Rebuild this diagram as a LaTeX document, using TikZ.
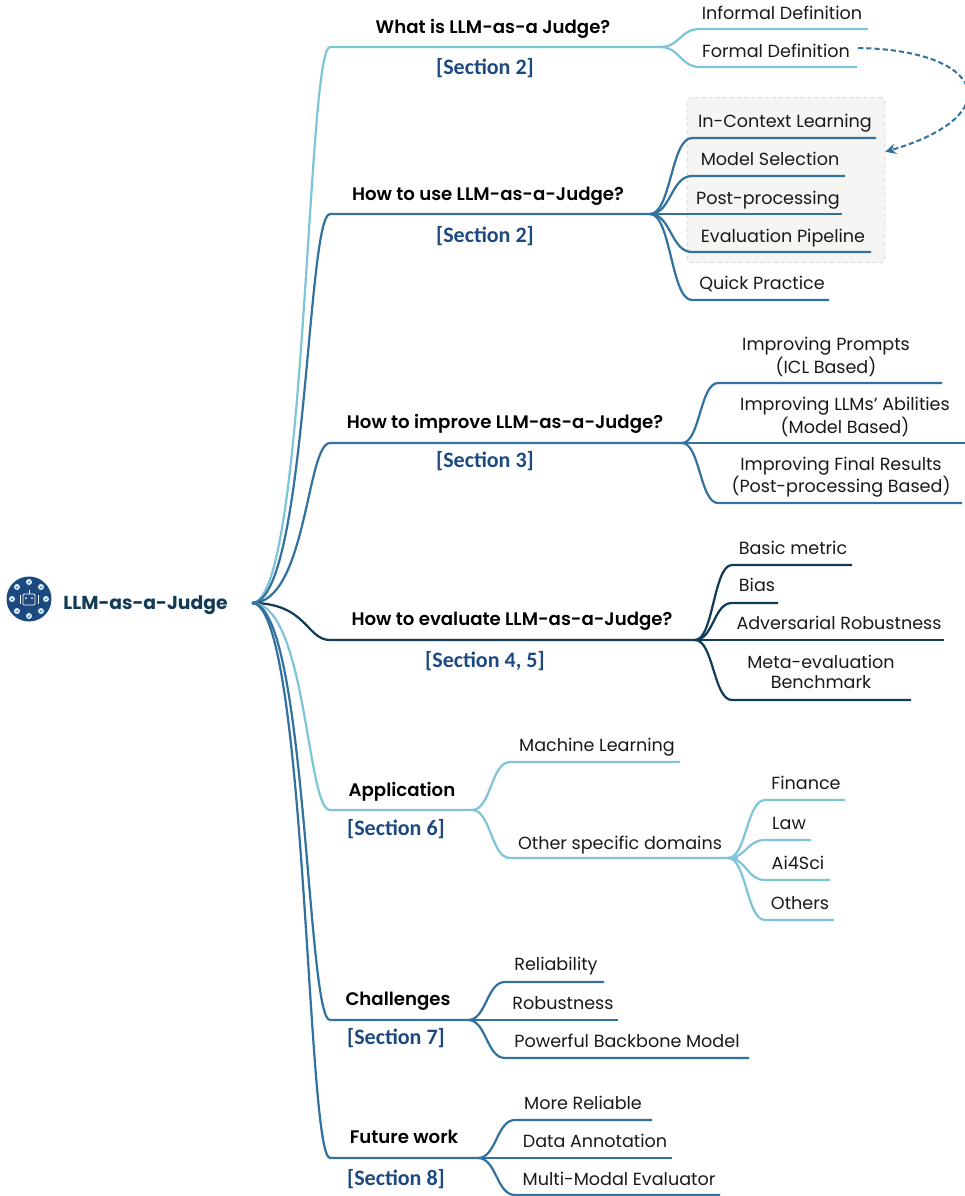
\documentclass[tikz,border=0pt]{standalone}
\usepackage{fontspec}
\setmainfont{Poppins}
\newfontfamily\headfont{Poppins SemiBold}
\newfontfamily\secfont{Carlito}
\usetikzlibrary{calc}
\usetikzlibrary{arrows.meta}
\definecolor{lightbranch}{HTML}{7FC4D9}
\definecolor{midbranch}{HTML}{33719F}
\definecolor{darkbranch}{HTML}{123B57}
\definecolor{secblue}{HTML}{1C4A80}
\definecolor{boxfill}{HTML}{F5F5F3}
\tikzset{
 branch/.style={line width=1.9pt, to path={.. controls ($(\tikztostart)!.5!(\tikztostart -| \tikztotarget)$) and ($(\tikztotarget)!.5!(\tikztotarget -| \tikztostart)$) .. (\tikztotarget) \tikztonodes}},
 rootbranch/.style={line width=1.9pt, to path={.. controls ($(\tikztostart)!.7!(\tikztostart -| \tikztotarget)$) and ($(\tikztotarget)!.3!(\tikztotarget -| \tikztostart)$) .. (\tikztotarget) \tikztonodes}},
 leaf/.style={inner sep=0, align=center, font=\fontsize{15}{16.5}\selectfont, text=black!90},
 head/.style={inner sep=0, font=\headfont\fontsize{15.5}{18}\selectfont, text=black},
 sec/.style={inner sep=0, font=\secfont\bfseries\fontsize{18.8}{22}\selectfont, text=secblue},
}
\begin{document}
\begin{tikzpicture}[x=0.03cm, y=-0.03cm]
\useasboundingbox (0,0) rectangle (965,1196);
\node[draw=black!15, fill=boxfill, dashed, rounded corners=3, line width=.8pt, minimum width=5.93cm, minimum height=4.95cm, inner sep=0] (selbox) at (786,180) {};
% icon
\fill[secblue] (29,599) circle (22.5);
\foreach \a in {0,45,...,315} {
 \fill[white!85!cyan] (29,599) ++(\a:17) circle (3);
 \draw[secblue, line width=.4pt] (29,599) ++(\a:17) ++(-1.3,0) -- ++(1,1) -- ++(1.6,-2);
}
\draw[white, line width=.7pt, rounded corners=1] (23,594) rectangle (35,605);
\draw[white, line width=.7pt] (29,594)--(29,590);
\fill[white] (26,598) circle (1) (32,598) circle (1);
\draw[white, line width=.7pt] (20,595)--(20,604) (38,595)--(38,604);
\coordinate (rootpt) at (252,603);
\node[inner sep=0, font=\bfseries\fontsize{16}{18}\selectfont, text=darkbranch] (rootlabel) at (145.5,605) {LLM-as-a-Judge};
% main branches
\foreach \name/\y/\xb/\tone/\tx/\ty/\txt/\sx/\sy/\stxt in {
 what/47/660/lightbranch/493/29/{What is LLM-as-a Judge?}/485/68/{[Section 2]},
 use/214/650/midbranch/488/196/{How to use LLM-as-a-Judge?}/485/236/{[Section 2]},
 improve/443/682/midbranch/505/424/{How to improve LLM-as-a-Judge?}/485/461/{[Section 3]},
 eval/640/695/darkbranch/512/621/{How to evaluate LLM-as-a-Judge?}/485/661/{[Section 4, 5]},
 app/810/472/lightbranch/402/792/{Application}/396/829/{[Section 6]},
 chal/1020/468/midbranch/398/1001/{Challenges}/396/1038/{[Section 7]},
 future/1158/478/midbranch/404/1137/{Future work}/396/1179/{[Section 8]}} {
 \coordinate (\name s) at (330,\y);
 \coordinate (\name hub) at (\xb,\y);
 \draw[rootbranch, draw=\tone] (rootpt) to (\name s) -- (\name hub);
 \node[head] (\name) at (\tx,\ty) {\txt};
 \node[sec] (\name sec) at (\sx,\sy) {\stxt};
}
% leaves
\coordinate (otherhub) at (728,858);
\foreach \hub/\name/\xa/\xb/\y/\tone/\tx/\ty/\txt in {
 what/informal/700/868/29/lightbranch/782/13/{Informal Definition},
 what/formal/700/857/67/lightbranch/776/51/{Formal Definition},
 use/icl/692/876/138/midbranch/785/123/{In-Context Learning},
 use/model/692/845/176/midbranch/770/159/{Model Selection},
 use/post/692/842/214/midbranch/768/200/{Post-processing},
 use/pipe/692/871/252/midbranch/783/238/{Evaluation Pipeline},
 use/quick/692/829/300/midbranch/762/284/{Quick Practice},
 improve/prompt/718/942/383/midbranch/826/357/{Improving Prompts\\(ICL Based)},
 improve/abil/718/965/443/midbranch/845/417/{Improving LLMs' Abilities\\(Model Based)},
 improve/final/718/962/503/midbranch/841/477/{Improving Final Results\\(Post-processing Based)},
 eval/basic/732/852/565/darkbranch/793/548/{Basic metric},
 eval/bias/732/778/603/darkbranch/757/585/{Bias},
 eval/adv/732/944/640/darkbranch/839/623/{Adversarial Robustness},
 eval/meta/732/911/700/darkbranch/821/672/{Meta-evaluation\\Benchmark},
 app/machine/510/680/762/lightbranch/597/747/{Machine Learning},
 app/other/510/738/858/lightbranch/620/845/{Other specific domains},
 other/finance/765/845/800/lightbranch/806/783/{Finance},
 other/law/765/811/840/lightbranch/789/823/{Law},
 other/sci/765/830/880/lightbranch/798/863/{Ai4Sci},
 other/others/765/834/920/lightbranch/800/903/{Others},
 chal/reli/505/604/982/midbranch/556/966/{Reliability},
 chal/robust/505/618/1020/midbranch/563/1003/{Robustness},
 chal/backbone/505/749/1058/midbranch/627/1041/{Powerful Backbone Model},
 future/more/515/652/1120/midbranch/583/1103/{More Reliable},
 future/annot/515/672/1158/midbranch/595/1141/{Data Annotation},
 future/multi/515/720/1195/midbranch/619/1179/{Multi-Modal Evaluator}} {
 \coordinate (\name s) at (\xa,\y);
 \coordinate (\name e) at (\xb,\y);
 \draw[branch, draw=\tone] (\hub hub) to (\name s) -- (\name e);
 \node[leaf] (\name) at (\tx,\ty) {\txt};
}
\coordinate (dashstart) at (858,48);
\draw[midbranch, line width=1.7pt, dash pattern=on 4.5pt off 2.5pt, -{Stealth[length=9pt,width=9pt]}] (dashstart) .. controls (985,50) and (1010,115) .. ($(selbox.north east)!.33!(selbox.south east)$);
\end{tikzpicture}
\end{document}
